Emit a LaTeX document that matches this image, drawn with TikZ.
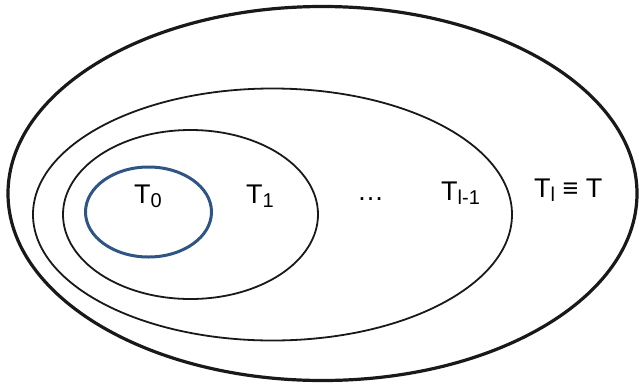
\documentclass[tikz,border=0pt]{standalone}
\usepackage{fontspec}
\setmainfont{Liberation Sans}
\definecolor{setblue}{HTML}{2F5585}
\newcommand{\mysub}[1]{\raisebox{-4pt}{\fontsize{20}{20}\selectfont #1}}
\begin{document}
\begin{tikzpicture}[x=1pt,y=-1pt,
  setline/.style={draw=black!90},
  lbl/.style={anchor=base west,inner sep=0pt,font=\fontsize{27}{27}\selectfont}]
\useasboundingbox (0,0) rectangle (639,386);
\draw[setline,line width=3.2pt] (322.5,193.5) ellipse [x radius=314.5, y radius=187];
\draw[setline,line width=1.8pt] (272.5,214.5) ellipse [x radius=239.5, y radius=126];
\draw[setline,line width=1.8pt] (190.5,214.5) ellipse [x radius=127.5, y radius=84.5];
\draw[setblue,line width=3pt] (148.5,212) ellipse [x radius=63, y radius=45];
\node[lbl] (t0) at (134,203) {T\mysub{0}};
\node[lbl] (t1) at (246,203) {T\mysub{1}};
\node[lbl] (dots) at (357,200) {…};
\node[lbl] (tl1) at (441,200) {T\mysub{l-1}};
\node[lbl] (tl) at (534,197) {T\mysub{l} ≡ T};
\end{tikzpicture}
\end{document}
